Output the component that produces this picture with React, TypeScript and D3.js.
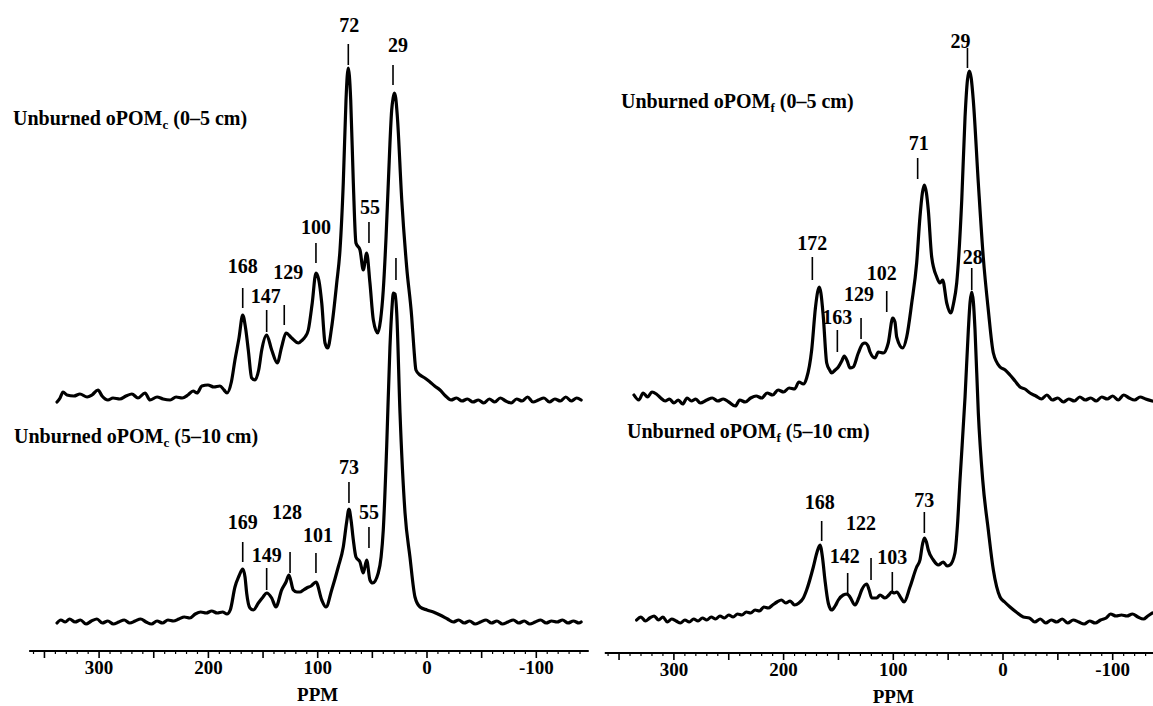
import { useEffect } from 'react';
import * as d3 from 'd3';

type Pt = [number, number];

// [ppm, intensity]; intensity in px above each trace's own baseline
const oPOMcTop: Pt[] = [
  [338.5, -4], [335.7, 0], [333, 6], [329.4, 3], [323, 2], [317.5, 4], [311, 1], [306.5, 3], [301, 8], [297.3, 2],
  [291.9, -2], [287.3, 0], [281, -1], [275.4, 2], [270, 4], [264.4, 0], [258, 5], [253.4, -2], [247, 1], [241.5, -1],
  [235, -2], [229.6, 1], [224, 0], [218.7, 3], [214, 7], [210.4, 5], [206, 12], [200.4, 13], [195, 11], [189.4, 12],
  [185.7, 8], [183, 5], [179, 16], [175.7, 38], [172, 60], [168.6, 83], [166, 70], [163.5, 48], [160.4, 20], [157.4, 18],
  [154, 28], [151.2, 48], [146.7, 63], [142.1, 48], [137, 35], [133, 51], [129, 65], [123.8, 60], [117.7, 55], [114, 58],
  [111.6, 61], [108.6, 68], [105, 95], [101.6, 125], [99, 118], [96.3, 95], [93.3, 55], [90.9, 50], [87.2, 71], [82.6, 115],
  [79.6, 148], [76.6, 215], [74.1, 298], [73, 322], [72, 330], [71, 322], [69.8, 298], [67.4, 215], [65, 155], [61.3, 148],
  [58.3, 128], [55.2, 145], [52.2, 115], [49.1, 78], [45.1, 65], [42.5, 78], [40, 108], [37.5, 160], [35.4, 215], [32.3, 288],
  [31, 300], [29.9, 305], [28.6, 300], [27.1, 281], [23.1, 198], [18.6, 131], [14, 81], [12, 50], [10.1, 28], [6.4, 23],
  [2, 20], [-2.7, 16], [-7, 12], [-11.9, 8], [-17, 2], [-22, -2], [-27, 0], [-32, -3], [-37, -1], [-42, -4],
  [-47, -2], [-52, -5], [-57, -1], [-62, -4], [-67, 0], [-72, -3], [-77, -5], [-82, -1], [-87, -3], [-92, 1],
  [-97, -4], [-102, -2], [-107, 0], [-112, -4], [-117, -1], [-122, -3], [-127, 1], [-132, -3], [-137, 0], [-141, -2],
];

const oPOMcDeep: Pt[] = [
  [338.5, -1], [335, 2], [331, 0], [327, 3], [322, 0], [317, 2], [312, -2], [307, 1], [302, 3], [297, -1],
  [292, 1], [287, -2], [282, 0], [277, 2], [272, -1], [267, 1], [262, 3], [257, 0], [252, -2], [247, 1],
  [242, -1], [237, 2], [232, 1], [227, 3], [222, 5], [217, 4], [212, 8], [207, 10], [202, 9], [197, 11],
  [192, 9], [187, 10], [183, 8], [180, 12], [175.7, 35], [172, 46], [168.6, 53], [166.5, 45], [165, 29], [162, 14],
  [158.9, 12], [154.3, 19], [150, 25], [146.7, 29], [142.1, 24], [138.2, 15], [133, 32], [129, 40], [126.3, 47], [122.3, 32],
  [119, 30], [116.2, 30], [113, 32], [110.1, 34], [106, 36], [101.6, 40], [96.3, 22], [92.4, 15], [87.2, 32], [81.2, 55],
  [76.6, 75], [73.5, 100], [71.4, 113], [69.5, 102], [67.4, 82], [65, 65], [61.3, 60], [58.3, 49], [55.2, 62], [52.2, 42],
  [49.7, 39], [44.6, 49], [42, 65], [40, 92], [36.9, 175], [33.9, 275], [32, 315], [30.8, 329], [29.2, 328], [27.7, 309],
  [24.7, 209], [20.1, 109], [15.6, 65], [11, 25], [6.4, 15], [0, 12], [-5.8, 10], [-11.9, 7], [-18.8, 3], [-24, 0],
  [-29, 2], [-34, -1], [-39, 1], [-44, -2], [-49, 0], [-54, 2], [-59, -1], [-64, 1], [-69, -2], [-74, 0],
  [-79, 2], [-84, -1], [-89, 1], [-94, -2], [-99, 0], [-104, 2], [-109, -1], [-114, 1], [-119, 0], [-124, 2],
  [-129, -1], [-134, 1], [-139, -1], [-141, 0],
];

const oPOMfTop: Pt[] = [
  [336.4, 3], [332, -2], [328, 5], [324, 1], [320, 6], [316, 4], [312, 0], [308, -3], [304, -1], [300, -5],
  [296, -2], [292, -6], [288, 0], [284, -3], [280, -1], [276, -5], [270, -2], [265, 0], [260, -3], [255, -1],
  [250, -4], [244, -8], [240, -2], [235, -4], [230, 0], [225, 2], [220, 0], [215, 5], [210, 3], [205, 8],
  [200, 6], [195, 10], [190, 9], [186, 16], [182, 14], [179, 20], [174.4, 48], [171, 90], [169, 106], [167.5, 111],
  [166, 105], [163.8, 81], [160.7, 35], [158, 28], [156.2, 25], [153, 28], [150.1, 31], [147, 37], [144.7, 42], [142, 37],
  [139.5, 30], [136.5, 31], [131.9, 45], [128, 54], [125.8, 55], [123, 52], [121.2, 46], [116.7, 40], [113.7, 46], [109.1, 45],
  [104.6, 55], [100.5, 80], [98.5, 76], [96.9, 61], [91.4, 50], [87.8, 61], [83.2, 95], [78.7, 135], [75.7, 181], [73.5, 205],
  [71.7, 213], [69.8, 205], [68.1, 188], [65, 141], [60.4, 121], [57.5, 115], [55, 118], [51.3, 95], [47.7, 85], [45, 95],
  [42.2, 115], [37.6, 198], [34.6, 281], [32.4, 318], [30.7, 327], [29, 320], [27.1, 298], [22.5, 215], [18, 141], [13.4, 88],
  [8.8, 45], [2.7, 31], [-2, 28], [-6.4, 23], [-11, 17], [-15.5, 11], [-20, 9], [-24.6, 5], [-30, 2], [-35, -1],
  [-40, 3], [-45, -2], [-50, 0], [-55, -4], [-60, -1], [-65, -3], [-70, 1], [-75, -2], [-80, 0], [-85, -3],
  [-90, 1], [-95, -1], [-100, 2], [-105, -2], [-110, 3], [-115, 0], [-120, -2], [-125, 1], [-130, -1], [-136, -3],
];

const oPOMfDeep: Pt[] = [
  [334, 0], [330, 3], [326, -1], [322, 2], [318, 4], [314, 0], [310, 3], [306, -2], [302, 1], [298, -1],
  [294, -3], [290, 0], [286, -2], [282, 1], [278, -1], [274, 2], [270, 0], [266, 3], [262, 1], [258, 4],
  [254, 2], [250, 5], [246, 3], [242, 6], [238, 5], [234, 8], [230, 7], [226, 10], [222, 9], [218, 13],
  [214, 12], [210, 15], [206, 18], [202, 20], [198, 17], [194, 19], [190, 15], [186, 17], [182, 22], [179, 30],
  [172.9, 53], [169.5, 68], [166.8, 75], [164.5, 62], [162.3, 40], [159.3, 17], [156.2, 10], [153, 14], [150.1, 20], [145.6, 25],
  [142, 26], [139.5, 23], [134.9, 15], [131.5, 22], [128.8, 30], [124.3, 36], [122, 30], [119.7, 22], [115.1, 22], [112.1, 25],
  [107.6, 22], [104, 25], [101.5, 28], [99, 27], [96.9, 28], [93, 22], [90.2, 18], [84.8, 33], [78.7, 53], [75.7, 60],
  [73.5, 75], [71.7, 82], [69.8, 78], [68.1, 70], [63.5, 60], [59, 55], [54.4, 58], [51, 54], [48.3, 55], [43.8, 67],
  [41.5, 95], [39.2, 140], [34.6, 223], [31.6, 290], [30, 318], [28.5, 328], [27, 318], [25.5, 290], [22.5, 207], [18.5, 140],
  [13.4, 90], [8.8, 50], [2.7, 23], [-1.5, 18], [-6.4, 13], [-12, 8], [-18.5, 3], [-24, 2], [-29, -2], [-34, 1],
  [-39, -3], [-44, 0], [-49, -2], [-54, 1], [-59, -3], [-64, 0], [-69, -2], [-74, -4], [-79, -1], [-84, -3],
  [-89, 0], [-94, 2], [-98, 6], [-103, 4], [-108, 5], [-113, 4], [-118, 6], [-123, 3], [-128, 1], [-132, 4], [-136, 7],
];

// peak marks: label text, ppm of the tick, tick span and label height (same units as intensity)
type Mark = { text: string; ppm: number; lo: number; hi: number; label: number; dx: number };

const oPOMcTopMarks: Mark[] = [
  { text: '168', ppm: 168.6, lo: 90, hi: 110, label: 132, dx: 0 },
  { text: '147', ppm: 146.7, lo: 66, hi: 88, label: 102, dx: -1 },
  { text: '129', ppm: 130.6, lo: 73, hi: 93, label: 126, dx: 4 },
  { text: '100', ppm: 101.6, lo: 135, hi: 155, label: 171, dx: 0 },
  { text: '72', ppm: 72, lo: 333, hi: 354, label: 373, dx: 1 },
  { text: '55', ppm: 53.1, lo: 155, hi: 176, label: 191, dx: 1 },
  { text: '29', ppm: 31.1, lo: 313, hi: 333, label: 353, dx: 5 },
];
const oPOMcDeepMarks: Mark[] = [
  { text: '169', ppm: 168.6, lo: 60, hi: 80, label: 100, dx: 0 },
  { text: '149', ppm: 146.7, lo: 32, hi: 54, label: 67, dx: 0 },
  { text: '128', ppm: 125.3, lo: 49, hi: 70, label: 110, dx: -3 },
  { text: '101', ppm: 101.6, lo: 49, hi: 69, label: 87, dx: 2 },
  { text: '73', ppm: 71.4, lo: 119, hi: 140, label: 155, dx: 0 },
  { text: '55', ppm: 53.1, lo: 74, hi: 95, label: 110, dx: 0 },
  { text: '', ppm: 28.4, lo: 342, hi: 364, label: 0, dx: 0 },
];
const oPOMfTopMarks: Mark[] = [
  { text: '172', ppm: 173.8, lo: 118, hi: 141, label: 155, dx: 0 },
  { text: '163', ppm: 151, lo: 46, hi: 68, label: 81, dx: 0 },
  { text: '129', ppm: 129.4, lo: 59, hi: 80, label: 104, dx: -2 },
  { text: '102', ppm: 106, lo: 86, hi: 107, label: 125, dx: -5 },
  { text: '71', ppm: 77.8, lo: 219, hi: 240, label: 255, dx: 1 },
  { text: '29', ppm: 32.4, lo: 330, hi: 350, label: 357, dx: -7 },
];
const oPOMfDeepMarks: Mark[] = [
  { text: '168', ppm: 165.3, lo: 79, hi: 99, label: 118, dx: -2 },
  { text: '142', ppm: 141.6, lo: 25, hi: 47, label: 64, dx: -3 },
  { text: '122', ppm: 120.3, lo: 40, hi: 62, label: 97, dx: -10 },
  { text: '103', ppm: 100.9, lo: 27, hi: 48, label: 63, dx: 0 },
  { text: '73', ppm: 71.7, lo: 87, hi: 108, label: 120, dx: 0 },
  { text: '28', ppm: 28.5, lo: 330, hi: 352, label: 363, dx: 1 },
];

const tickLabels = [300, 200, 100, 0, -100];

const FONT = '"Liberation Serif", "Times New Roman", serif';

type Trace = {
  data: Pt[];
  marks: Mark[];
  base: number;
  title: [string, string, string];
  titleX: number;
  titleY: number;
};

function Panel({ domain, range, axisY, traces }: { domain: [number, number]; range: [number, number]; axisY: number; traces: Trace[] }) {
  const x = d3.scaleLinear().domain(domain).range(range);
  const minor = d3.range(-140, 361, 10).filter((v) => v <= domain[0] && v >= domain[1]);

  const ys = traces.map((t) => d3.scaleLinear().domain([0, 100]).range([t.base, t.base - 100]));

  return (
    <g>
      {/* axis */}
      <line x1={range[0]} x2={range[1]} y1={axisY} y2={axisY} stroke="#000" strokeWidth={2} />
      {minor.map((v) => (
        <line key={v} x1={x(v)} x2={x(v)} y1={axisY} y2={axisY + (v % 50 === 0 ? 7 : 3)} stroke="#000" strokeWidth={v % 50 === 0 ? 1.6 : 1.2} />
      ))}
      {tickLabels.map((v) => (
        <text key={v} x={x(v)} y={axisY + 23} textAnchor="middle" fontFamily={FONT} fontWeight="bold" fontSize={19}>{v}</text>
      ))}
      <text x={x(100)} y={axisY + 50} textAnchor="middle" fontFamily={FONT} fontWeight="bold" fontSize={19}>PPM</text>

      {traces.map((t, i) => (
        <g key={'t' + i}>
          <text x={t.titleX} y={t.titleY} fontFamily={FONT} fontWeight="bold" fontSize={20}>
            <tspan>{t.title[0]}</tspan>
            <tspan dy={4} fontSize={13}>{t.title[1]}</tspan>
            <tspan dy={-4}>{t.title[2]}</tspan>
          </text>
          {t.marks.map((m, j) => (
            <g key={j}>
              <line x1={x(m.ppm)} x2={x(m.ppm)} y1={ys[i](m.lo)} y2={ys[i](m.hi)} stroke="#000" strokeWidth={1.6} />
              {m.text && (
                <text x={x(m.ppm) + m.dx} y={ys[i](m.label) + 7} textAnchor="middle" fontFamily={FONT} fontWeight="bold" fontSize={20}>{m.text}</text>
              )}
            </g>
          ))}
        </g>
      ))}

      {traces.map((t, i) => {
        const line = d3.line<Pt>().x((d) => x(d[0])).y((d) => ys[i](d[1])).curve(d3.curveMonotoneX);
        return <path key={'p' + i} d={line(t.data) || ''} fill="none" stroke="#000" strokeWidth={3.2} strokeLinejoin="round" strokeLinecap="round" />;
      })}
    </g>
  );
}

export default function App() {
  useEffect(() => {
    document.body.style.margin = '0';
  }, []);

  return (
    <svg width={1153} height={706} style={{ display: 'block', background: '#fff' }}>
      <Panel
        domain={[364, -148]}
        range={[427 - 1.093 * 364, 427 + 1.093 * 148]}
        axisY={651}
        traces={[
          { data: oPOMcTop, marks: oPOMcTopMarks, base: 398, title: ['Unburned oPOM', 'c', ' (0–5 cm)'], titleX: 13, titleY: 125 },
          { data: oPOMcDeep, marks: oPOMcDeepMarks, base: 622, title: ['Unburned oPOM', 'c', ' (5–10 cm)'], titleX: 14, titleY: 443 },
        ]}
      />
      <Panel
        domain={[363, -137]}
        range={[1003 - 1.097 * 363, 1003 + 1.097 * 137]}
        axisY={653}
        traces={[
          { data: oPOMfTop, marks: oPOMfTopMarks, base: 398, title: ['Unburned oPOM', 'f', ' (0–5 cm)'], titleX: 621, titleY: 108 },
          { data: oPOMfDeep, marks: oPOMfDeepMarks, base: 620, title: ['Unburned oPOM', 'f', ' (5–10 cm)'], titleX: 627, titleY: 438 },
        ]}
      />
    </svg>
  );
}
